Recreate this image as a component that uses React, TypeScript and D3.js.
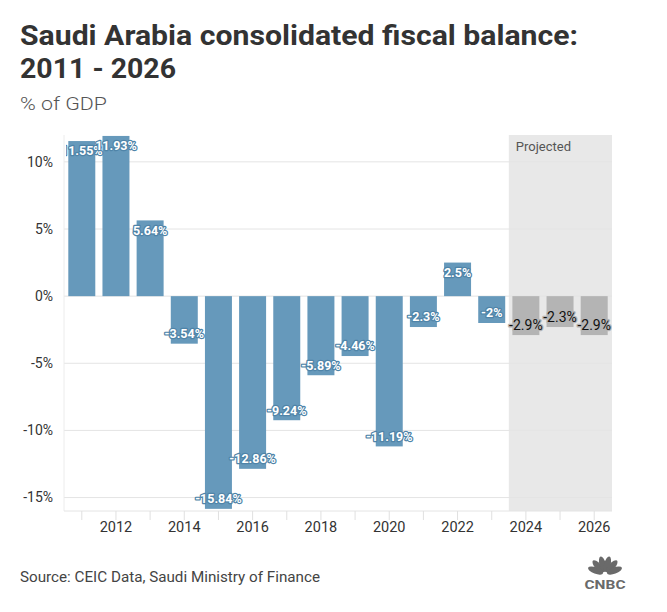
import React from "react";
import * as d3 from "d3";

const years = [2011, 2012, 2013, 2014, 2015, 2016, 2017, 2018, 2019, 2020, 2021, 2022, 2023, 2024, 2025, 2026];
const balances = [11.55, 11.93, 5.64, -3.54, -15.84, -12.86, -9.24, -5.89, -4.46, -11.19, -2.3, 2.5, -2, -2.9, -2.3, -2.9];
const projectedYears = [2024, 2025, 2026];
const yTicks = [-15, -10, -5, 0, 5, 10];
const xTickLabels = [2012, 2014, 2016, 2018, 2020, 2022, 2024, 2026];

const W = 667;
const H = 612;
const FONT = "Roboto, 'Noto Sans', sans-serif";

export default function App() {
  const left = 64, right = 612, top = 135, bottom = 511;
  const x = d3.scaleBand<number>().domain(years).range([left, right]).paddingInner(0.21).paddingOuter(0.126);
  const y = d3.scaleLinear().domain([-16, 12]).range([bottom, top]);
  const step = x.step();
  const bw = x.bandwidth();
  const projStart = (x(projectedYears[0]) as number) - (step - bw) / 2;
  const data = years.map((yr, i) => ({ yr, v: balances[i], proj: projectedYears.includes(yr) }));
  const blue = "#6699bb";
  const grey = "#b4b4b4";

  const feathers = d3.range(6).map((i) => -70 + i * 28);

  return (
    <svg width={W} height={H} style={{ position: "absolute", left: 0, top: 0, background: "#fff" }} fontFamily={FONT}>
      <defs>
        <clipPath id="plotClip">
          <rect x={left + 2} y={top - 5} width={right - left - 2} height={bottom - top + 10} />
        </clipPath>
      </defs>
      <text x={20} y={45} fontSize={27} fontWeight={700} fill="#333" textLength={558} lengthAdjust="spacingAndGlyphs">
        Saudi Arabia consolidated fiscal balance:
      </text>
      <text x={20} y={78} fontSize={27} fontWeight={700} fill="#333" textLength={156} lengthAdjust="spacingAndGlyphs">
        2011 - 2026
      </text>
      <text x={20} y={110} fontSize={19} fontWeight={300} fill="#555" textLength={87} lengthAdjust="spacingAndGlyphs">
        % of GDP
      </text>

      <rect x={projStart} y={top} width={right - projStart} height={bottom - top} fill="#e8e8e8" />
      <text x={projStart + 7} y={151} fontSize={13} fill="#555">Projected</text>

      {yTicks.map((t) => (
        <g key={t}>
          <line x1={left} x2={right} y1={y(t)} y2={y(t)} stroke="#e4e4e4" strokeWidth={1} />
          <text x={53} y={y(t)} dy="0.35em" textAnchor="end" fontSize={14} fill="#333">{t + "%"}</text>
        </g>
      ))}
      <line x1={left} x2={left} y1={top} y2={bottom} stroke="#ececec" />
      <line x1={left} x2={right} y1={bottom} y2={bottom} stroke="#e4e4e4" />

      {years.map((yr) => {
        const cx = (x(yr) as number) + bw / 2;
        return <line key={yr} x1={cx} x2={cx} y1={bottom} y2={bottom + 9} stroke="#e0e0e0" />;
      })}
      {xTickLabels.map((yr) => (
        <text key={yr} x={(x(yr) as number) + bw / 2} y={532} textAnchor="middle" fontSize={14.5} fill="#333">{yr}</text>
      ))}

      {data.map((d) => (
        <rect key={d.yr} x={x(d.yr)} y={y(Math.max(0, d.v))} width={bw} height={Math.abs(y(d.v) - y(0))} fill={d.proj ? grey : blue} />
      ))}

      <g clipPath="url(#plotClip)">
        {data.map((d) => {
          const cx = (x(d.yr) as number) + bw / 2;
          const cy = d.v >= 0 ? y(d.v) + 10 : y(d.v) - 10;
          return (
            <text
              key={d.yr}
              x={cx}
              y={cy}
              dy="0.35em"
              textAnchor="middle"
              fontSize={d.proj ? 14 : 12.5}
              fontWeight={d.proj ? 400 : 700}
              fill={d.proj ? "#111" : "#fff"}
              stroke={d.proj ? grey : "#4f84a8"}
              strokeWidth={2.5}
              strokeLinejoin="round"
              style={{ paintOrder: "stroke" }}
            >
              {d.v + "%"}
            </text>
          );
        })}
      </g>

      <text x={20} y={582} fontSize={14.5} fill="#444" textLength={300} lengthAdjust="spacingAndGlyphs">Source: CEIC Data, Saudi Ministry of Finance</text>

      <g transform="translate(605,574)" fill="#6a6a6a">
        {feathers.map((a, i) => (
          <ellipse key={i} cx={0} cy={-10} rx={3.2} ry={8} transform={`rotate(${a})`} />
        ))}
        <circle cx={0} cy={0} r={2.2} fill="#fff" />
      </g>
      <text x={605} y={589} textAnchor="middle" fontSize={13} fontWeight={700} fill="#6a6a6a" textLength={41} lengthAdjust="spacingAndGlyphs">CNBC</text>
    </svg>
  );
}
